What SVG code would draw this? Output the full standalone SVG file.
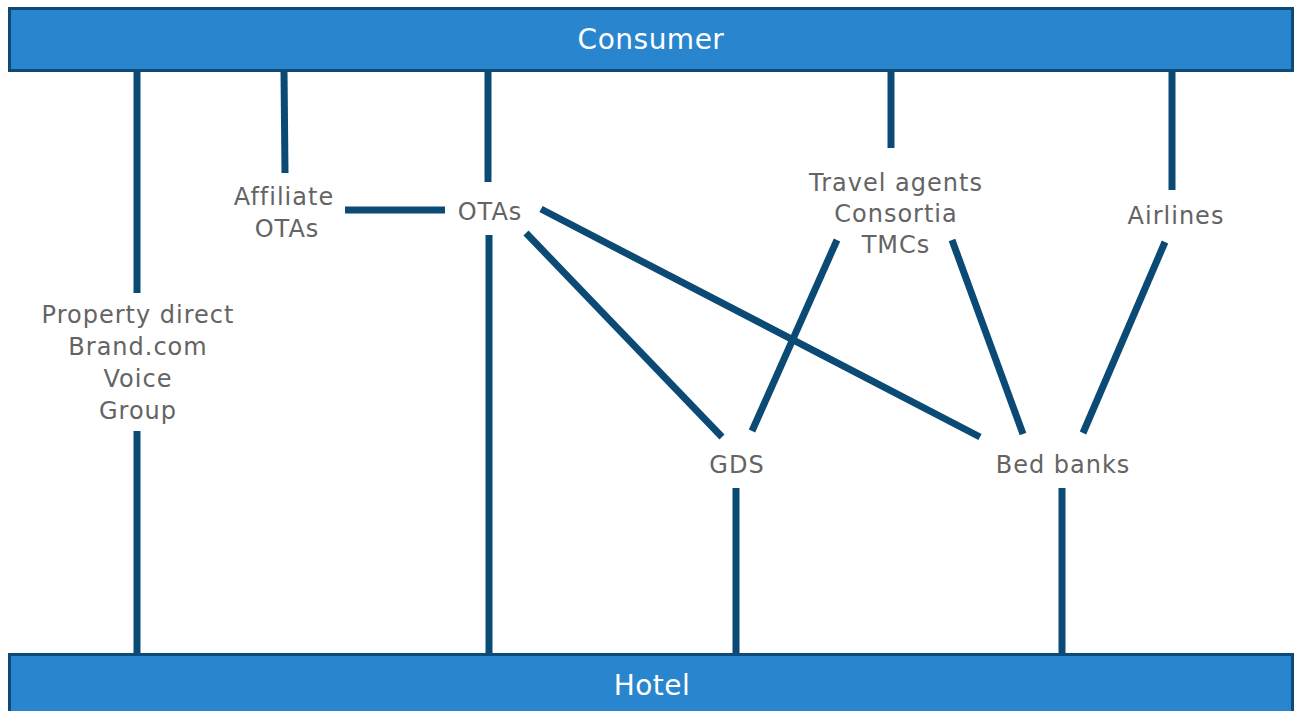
<svg xmlns="http://www.w3.org/2000/svg" width="1296" height="711" viewBox="0 0 1296 711">
<style>
.bar{fill:#2A85CF;stroke:#0E4A78;stroke-width:3}
.bt{font-family:"DejaVu Sans",sans-serif;font-size:28px;letter-spacing:0.5px;fill:#ffffff;text-anchor:middle}
.lb{font-family:"DejaVu Sans",sans-serif;font-size:24px;letter-spacing:1px;fill:#646464;text-anchor:middle}
.c line{stroke:#0B4A75;stroke-width:7;stroke-linecap:butt}
</style>
<rect width="1296" height="711" fill="#ffffff"/>
<g id="connectors" class="c">
<line x1="137" y1="71" x2="137" y2="293"/>
<line x1="137" y1="431" x2="137" y2="653"/>
<line x1="284" y1="71" x2="285" y2="173"/>
<line x1="345" y1="210" x2="445" y2="210"/>
<line x1="488" y1="71" x2="488" y2="182"/>
<line x1="489" y1="235" x2="489" y2="653"/>
<line x1="526" y1="233" x2="722" y2="437"/>
<line x1="541" y1="209" x2="980" y2="437"/>
<line x1="891" y1="71" x2="891" y2="148"/>
<line x1="837" y1="240" x2="752" y2="431"/>
<line x1="952" y1="240" x2="1023" y2="434"/>
<line x1="1172" y1="71" x2="1172" y2="190"/>
<line x1="1165" y1="242" x2="1083" y2="433"/>
<line x1="736" y1="488" x2="736" y2="653"/>
<line x1="1062" y1="488" x2="1062" y2="653"/>
</g>
<g id="consumer">
<rect class="bar" x="9.5" y="8.5" width="1283" height="62"/>
<text class="bt" x="651" y="49">Consumer</text>
</g>
<g id="hotel">
<rect class="bar" x="9.5" y="654.5" width="1283" height="60"/>
<text class="bt" x="652" y="695">Hotel</text>
</g>
<g id="property-direct">
<text class="lb" x="138" y="323">Property direct</text>
<text class="lb" x="138" y="355">Brand.com</text>
<text class="lb" x="138" y="387">Voice</text>
<text class="lb" x="138" y="419">Group</text>
</g>
<g id="affiliate-otas">
<text class="lb" x="284" y="205">Affiliate</text>
<text class="lb" x="287" y="237">OTAs</text>
</g>
<g id="otas">
<text class="lb" x="490" y="220">OTAs</text>
</g>
<g id="travel-agents">
<text class="lb" x="896" y="191">Travel agents</text>
<text class="lb" x="896" y="222">Consortia</text>
<text class="lb" x="896" y="253">TMCs</text>
</g>
<g id="airlines">
<text class="lb" x="1176" y="224">Airlines</text>
</g>
<g id="gds">
<text class="lb" x="737" y="473">GDS</text>
</g>
<g id="bed-banks">
<text class="lb" x="1063" y="473">Bed banks</text>
</g>
</svg>
